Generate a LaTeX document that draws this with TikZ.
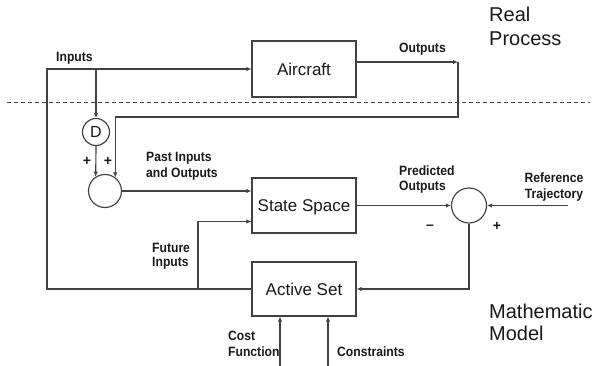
\documentclass[tikz,border=0pt]{standalone}
\usepackage{fontspec}
\setmainfont{Liberation Sans}
\newfontfamily\lblfont[FakeStretch=0.9]{Liberation Sans}
\usetikzlibrary{arrows.meta,calc}
\definecolor{ln}{gray}{0.26}
\definecolor{tx}{gray}{0.1}
\begin{document}
\begin{tikzpicture}[x=1pt,y=-1pt,
 box/.style={draw=ln, line width=1.15pt, minimum width=104pt, inner sep=0pt, text height=12.2pt, text depth=0pt, font=\fontsize{17}{20}\selectfont, text=tx},
 lbl/.style={font=\lblfont\bfseries\fontsize{13.5}{15}\selectfont, text=tx, inner sep=0pt, anchor=base west},
 sgn/.style={font=\bfseries\fontsize{14}{14}\selectfont, text=tx, inner sep=0pt},
 big/.style={font=\fontsize{20}{23}\selectfont, text=tx, inner sep=0pt, anchor=base west},
 wire/.style={draw=ln, line width=1.15pt},
 arr/.style={wire, -{Latex[length=5pt,width=4.5pt]}},
 sumc/.style={circle, draw=ln, line width=1.15pt, inner sep=0pt, text=tx},
]
\useasboundingbox (0,0) rectangle (598,366);

% blocks
\node[box, minimum height=56pt] (air) at (304,69) {Aircraft};
\node[box, minimum height=55pt] (ss) at (304,205.5) {State Space};
\node[box, minimum height=54pt] (as) at (304,289) {Active Set};
\node[sumc, minimum size=27pt, font=\fontsize{16}{16}\selectfont] (D) at (96,132) {D};
\node[sumc, minimum size=33pt] (s1) at (105,191) {};
\node[sumc, minimum size=35pt] (s2) at (469,205.5) {};

% free ends
\coordinate (bD) at (96,69);
\coordinate (oC) at (458,62);
\coordinate (fi) at (198,289);
\coordinate (ref) at (568,205.5);
\coordinate (cf) at (280,366);
\coordinate (cs) at (328,366);
\coordinate (dl) at (7,103);
\coordinate (dr) at (590,103);

% dashed separator
\draw[ln, line width=1pt, dash pattern=on 4pt off 3pt] (dl) -- (dr);

% connectors
\draw[arr] (as.west) -| (47,69) -- (air.west);
\draw[arr] (bD) -- (D.north);
\draw[arr] (D.south) -- (s1.123);
\draw[arr] ([yshift=7pt]air.east) -- (oC);
\draw[arr] (oC) -- (458,117) -| (s1.53);
\draw[arr] (s1.east) -- (s1.east -| ss.west);
\draw[arr] (fi) |- ([yshift=-16pt]ss.west);
\draw[arr] (ss.east) -- (s2.west);
\draw[arr] (ref) -- (s2.east);
\draw[arr] (s2.south) |- (as.east);
\draw[arr] (cf) -- (cf |- as.south);
\draw[arr] (cs) -- (cs |- as.south);

% labels
\node[lbl] (tIn) at (56,62) {Inputs};
\node[lbl] (tOut) at (399,53) {Outputs};
\node[lbl] (tPa) at (146,162) {Past Inputs};
\node[lbl] (tPb) at (146,178) {and Outputs};
\node[lbl] (tPr) at (399,176) {Predicted};
\node[lbl] (tPo) at (399,191) {Outputs};
\node[lbl, anchor=base] (tRa) at (554,183) {Reference};
\node[lbl, anchor=base] (tRb) at (554,199) {Trajectory};
\node[lbl] (tFa) at (152,253) {Future};
\node[lbl] (tFb) at (152,267) {Inputs};
\node[lbl] (tCa) at (228,341) {Cost};
\node[lbl] (tCb) at (228,357) {Function};
\node[lbl] (tCo) at (337,357) {Constraints};

% signs
\node[sgn] (p1) at (87,161) {+};
\node[sgn] (p2) at (108,161) {+};
\node[sgn] (m1) at (430,227) {–};
\node[sgn] (p3) at (497,226) {+};

% region titles
\node[big] (tR1) at (489,22) {Real};
\node[big] (tR2) at (489,46) {Process};
\node[big] (tM1) at (489,319) {Mathematic};
\node[big] (tM2) at (489,341) {Model};
\end{tikzpicture}
\end{document}
